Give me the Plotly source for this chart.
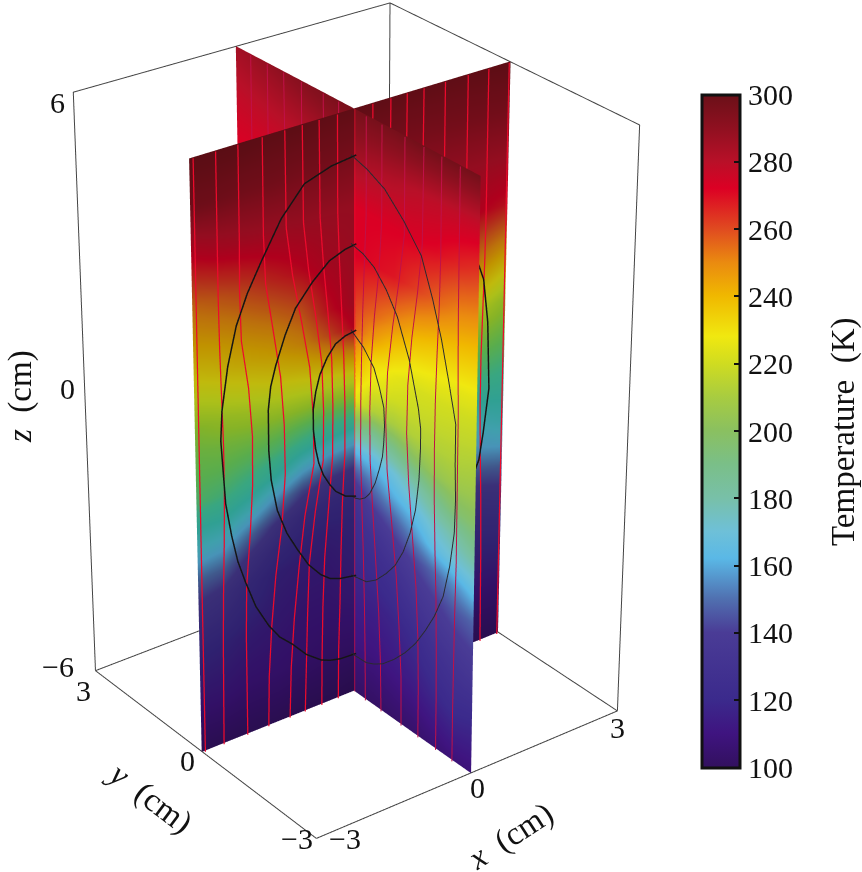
import numpy as np
import plotly.graph_objects as go

FONT = "Liberation Serif"

# temperature tables (K), rows follow Z_ROWS
Z_ROWS = [6, 5, 4, 3, 2, 1.5, 1, 0.5, 0, -0.5, -1, -1.5, -2, -2.5, -3, -4, -5, -6]
PLANE_COLS = [-3, -2.5, -2, -1.5, -1, -0.5, 0, 1, 2, 3]

T_Y0 = [
    [298, 298, 298, 297, 297, 296, 296, 296, 296, 297],
    [291, 291, 290, 290, 289, 289, 288, 288, 289, 290],
    [272, 276, 278, 279, 280, 280, 280, 280, 280, 280],
    [252, 256, 260, 265, 270, 276, 279, 278, 274, 268],
    [237, 240, 244, 248, 254, 268, 278, 270, 255, 240],
    [228, 232, 236, 240, 246, 258, 272, 262, 242, 225],
    [218, 222, 226, 230, 234, 240, 248, 245, 225, 212],
    [208, 212, 215, 218, 220, 222, 225, 222, 212, 205],
    [203, 205, 206, 206, 205, 204, 205, 205, 202, 198],
    [200, 200, 198, 195, 190, 186, 185, 188, 192, 190],
    [195, 193, 188, 180, 168, 160, 158, 165, 178, 182],
    [180, 180, 172, 158, 144, 138, 136, 142, 165, 175],
    [168, 166, 152, 138, 128, 125, 124, 130, 155, 165],
    [152, 150, 136, 126, 120, 118, 120, 122, 142, 150],
    [140, 136, 126, 118, 116, 115, 118, 118, 130, 138],
    [122, 120, 116, 114, 112, 112, 114, 114, 118, 122],
    [112, 112, 110, 110, 109, 108, 108, 108, 110, 110],
    [102, 102, 102, 102, 101, 101, 100, 100, 101, 102],
]

T_X0 = [
    [297, 297, 297, 297, 296, 296, 296, 293, 289, 285],
    [277, 278, 279, 280, 282, 283, 285, 282, 280, 278],
    [262, 266, 270, 272, 272, 272, 272, 272, 272, 272],
    [247, 250, 256, 262, 268, 270, 272, 270, 266, 262],
    [232, 234, 236, 240, 248, 256, 262, 250, 240, 232],
    [225, 226, 228, 230, 236, 246, 258, 236, 228, 225],
    [219, 220, 221, 222, 226, 232, 247, 226, 221, 219],
    [215, 216, 217, 218, 220, 224, 235, 220, 217, 215],
    [210, 212, 212, 212, 210, 212, 225, 210, 212, 210],
    [205, 206, 204, 198, 190, 186, 195, 195, 207, 205],
    [198, 196, 188, 178, 170, 165, 165, 170, 198, 195],
    [188, 180, 174, 166, 160, 152, 145, 155, 182, 175],
    [174, 170, 165, 155, 146, 140, 130, 140, 170, 165],
    [162, 155, 148, 142, 136, 130, 125, 130, 155, 155],
    [148, 145, 140, 135, 128, 124, 122, 124, 142, 147],
    [135, 132, 128, 122, 118, 116, 116, 118, 128, 135],
    [120, 122, 118, 114, 112, 110, 110, 112, 118, 120],
    [108, 108, 106, 104, 103, 102, 102, 103, 106, 108],
]

# colour bar, and the same scale with the stronger greens seen on the shaded plane
SCALE_T = [100, 110, 120, 140, 150, 162, 170, 180, 190, 200, 210, 220, 228, 240, 250, 260, 272, 280, 290, 300]
SCALE_C = ["#32105f", "#3f1480", "#3b2a8c", "#4a3c96", "#5070b0", "#5ab8e6", "#6ec0d8", "#78c0a8",
           "#7abf88", "#8ac060", "#a8cc40", "#d0dc20", "#f0e810", "#f0b800", "#ea8a10", "#e04a20",
           "#dc0024", "#b81028", "#8f1020", "#6a1018"]
SHADED_C = ["#32105f", "#3f1480", "#3b2a8c", "#4a3c96", "#5070b0", "#5ab8e6", "#50c8d8", "#3cc8b8",
            "#48d0a0", "#70d860", "#a8e030", "#d8f020", "#f0e810", "#f0b800", "#ea8a10", "#e04a20",
            "#dc0024", "#b81028", "#8f1020", "#6a1018"]
CBAR_TICKS = [100, 120, 140, 160, 180, 200, 220, 240, 260, 280, 300]

# field lines, position along the plane at each height
LINE_Z = [6, 4, 3, 2, 1, 0, -1, -2, -3, -4, -5, -6]
LINES_Y0 = [
    [-2.95, -2.95, -2.95, -2.95, -2.95, -2.95, -2.95, -2.95, -2.95, -2.95, -2.95, -2.95],
    [-2.55, -2.55, -2.55, -2.54, -2.52, -2.5, -2.5, -2.52, -2.55, -2.57, -2.58, -2.59],
    [-2.15, -2.15, -2.16, -2.14, -2.02, -1.96, -1.97, -2.03, -2.11, -2.13, -2.13, -2.13],
    [-1.71, -1.71, -1.68, -1.55, -1.42, -1.36, -1.35, -1.42, -1.55, -1.64, -1.7, -1.72],
    [-1.3, -1.29, -1.18, -1.02, -0.87, -0.81, -0.8, -0.98, -1.1, -1.2, -1.27, -1.3],
    [-0.98, -0.97, -0.88, -0.75, -0.64, -0.61, -0.62, -0.78, -0.9, -0.94, -0.97, -1.0],
    [-0.67, -0.66, -0.6, -0.52, -0.45, -0.43, -0.44, -0.52, -0.6, -0.64, -0.66, -0.67],
    [-0.33, -0.33, -0.3, -0.26, -0.22, -0.2, -0.2, -0.25, -0.28, -0.3, -0.33, -0.34],
    [0, 0, 0, 0, 0, 0, 0, 0, 0, 0, 0, 0],
]
LINES_X0 = [
    [-0.34, -0.34, -0.3, -0.26, -0.23, -0.21, -0.21, -0.24, -0.28, -0.31, -0.33, -0.34],
    [-0.72, -0.72, -0.66, -0.55, -0.47, -0.44, -0.45, -0.52, -0.6, -0.68, -0.73, -0.75],
    [-1.27, -1.27, -1.15, -1.0, -0.88, -0.84, -0.88, -1.0, -1.12, -1.2, -1.26, -1.27],
    [-1.72, -1.7, -1.6, -1.47, -1.38, -1.36, -1.42, -1.52, -1.62, -1.68, -1.7, -1.7],
    [-2.14, -2.14, -2.12, -2.08, -2.05, -2.04, -2.05, -2.08, -2.12, -2.14, -2.15, -2.15],
    [-2.57, -2.57, -2.57, -2.58, -2.6, -2.6, -2.6, -2.6, -2.58, -2.57, -2.56, -2.56],
]

# black contours: left half on y = 0, right half on x = 0
OUTER_X = [0, -0.47, -0.97, -1.4, -1.78, -2.04, -2.25, -2.42, -2.54, -2.57, -2.54, -2.5, -2.4, -2.29, -2.15,
           -1.96, -1.72, -1.51, -1.27, -0.99, -0.7, -0.52, -0.32, 0]
OUTER_XZ = [5.07, 5.0, 4.81, 4.25, 3.5, 2.95, 2.37, 1.6, 0.74, 0.15, -0.41, -1.15, -1.83, -2.4, -2.88,
            -3.45, -3.93, -4.25, -4.49, -4.82, -5.05, -5.13, -5.18, -5.2]
OUTER_Y = [0, -0.4, -0.6, -0.83, -1.12, -1.4, -1.66, -1.9, -2.12, -2.33, -2.48, -2.58, -2.6, -2.58, -2.58,
           -2.4, -2.22, -2.0, -1.72, -1.3, -0.83, -0.4, 0]
OUTER_YZ = [-5.2, -5.18, -5.1, -4.97, -4.72, -4.43, -4.1, -3.71, -3.3, -2.79, -2.1, -1.38, -0.7, 0, 0.82,
            1.6, 2.34, 3.05, 3.8, 4.3, 4.74, 4.95, 5.07]
MIDDLE_X = [0, -0.21, -0.51, -0.83, -1.15, -1.35, -1.53, -1.63, -1.68, -1.68, -1.64, -1.53, -1.35, -1.15, -0.94,
            -0.7, -0.52, -0.32, 0]
MIDDLE_XZ = [3.24, 3.2, 3.07, 2.75, 2.33, 1.85, 1.3, 0.9, 0.44, -0.38, -1.0, -1.66, -2.2, -2.61, -3.0,
             -3.3, -3.45, -3.53, -3.59]
MIDDLE_Y = [0, -0.4, -0.65, -0.9, -1.13, -1.33, -1.5, -1.63, -1.71, -1.74, -1.74, -1.68, -1.45, -1.15, -0.88,
            -0.58, -0.3, 0]
MIDDLE_YZ = [-3.59, -3.52, -3.35, -3.09, -2.8, -2.42, -1.95, -1.41, -0.75, -0.11, 0.3, 0.68, 1.55, 2.29, 2.7,
             3.02, 3.17, 3.24]
INNER_X = [0, -0.21, -0.4, -0.56, -0.7, -0.78, -0.83, -0.83, -0.79, -0.73, -0.64, -0.52, -0.4, -0.21, 0]
INNER_XZ = [1.46, 1.42, 1.32, 1.1, 0.8, 0.48, 0.14, -0.28, -0.68, -1.0, -1.28, -1.52, -1.71, -1.88, -1.96]
INNER_Y = [0, -0.12, -0.23, -0.36, -0.48, -0.62, -0.73, -0.8, -0.83, -0.85, -0.83, -0.72, -0.58, -0.32, 0]
INNER_YZ = [-1.96, -1.95, -1.91, -1.82, -1.67, -1.38, -1.02, -0.75, -0.47, -0.1, 0.27, 0.62, 0.96, 1.25, 1.46]
BACK_X = [2.2, 2.5, 2.6, 2.65, 2.55, 2.47, 2.2]
BACK_Z = [2.6, 1.62, 0.69, -0.72, -1.6, -2.15, -2.8]

# box edges, as x, y, z
BOX_X = [-3, 3, 3, -3, -3, None, -3, -3, 3, 3, None, 3, 3, None, 3, 3]
BOX_Y = [-3, -3, 3, 3, -3, None, 3, 3, 3, -3, None, 3, 3, None, -3, -3]
BOX_Z = [-6, -6, -6, -6, -6, None, -6, 6, 6, 6, None, 6, -6, None, 6, -6]

WIDTH, HEIGHT = 862, 872
KEYSTONE = 0.0068  # narrowing towards the bottom in the original view
DEPTH = 0.015      # and shrinking away from the viewer
colorscale = [[(t - 100) / 200, c] for t, c in zip(SCALE_T, SCALE_C)]
shadedscale = [[(t - 100) / 200, c] for t, c in zip(SCALE_T, SHADED_C)]
cols = np.array(PLANE_COLS, dtype=float)
rows = np.array(Z_ROWS, dtype=float)
grid_c, grid_z = np.meshgrid(cols, rows)
zeros = np.zeros_like(grid_c)


def warp(x, y, z):
    # orthographic camera below, so put the perspective of the original into the points
    x, y, z = (np.array(v, dtype=float) for v in (x, y, z))
    near = 1 - DEPTH * (0.6 * x + 0.8 * y)
    side = near + KEYSTONE * z
    return x * side, y * side, z * near


def path(x, y, z, color, width):
    x = [np.nan if v is None else v for v in x]
    y = [np.nan if v is None else v for v in y]
    z = [np.nan if v is None else v for v in z]
    xs, ys, zs = warp(x, y, z)
    return go.Scatter3d(x=xs, y=ys, z=zs, mode="lines", line=dict(color=color, width=width),
                        hoverinfo="none", showlegend=False)


fig = go.Figure()
sx, sy, sz = warp(grid_c, zeros, grid_z)
fig.add_trace(go.Surface(
    x=sx, y=sy, z=sz, surfacecolor=np.array(T_Y0, dtype=float),
    cmin=100, cmax=300, colorscale=shadedscale, showscale=False, hoverinfo="none",
    lighting=dict(ambient=0.8, diffuse=0, specular=0, roughness=1, fresnel=0),
))
sx, sy, sz = warp(zeros, grid_c, grid_z)
fig.add_trace(go.Surface(
    x=sx, y=sy, z=sz, surfacecolor=np.array(T_X0, dtype=float),
    cmin=100, cmax=300, colorscale=colorscale, hoverinfo="none",
    lighting=dict(ambient=1, diffuse=0, specular=0, roughness=1, fresnel=0),
    colorbar=dict(
        x=702 / WIDTH, xanchor="left", xpad=0, y=1 - 431 / HEIGHT, yanchor="middle", ypad=0,
        len=673, lenmode="pixels", thickness=38, thicknessmode="pixels",
        outlinecolor="#111111", outlinewidth=3,
        tickvals=CBAR_TICKS, ticks="inside", ticklen=7, tickwidth=2, tickcolor="#111111",
        tickfont=dict(family=FONT, size=30, color="#111111"),
    ),
))

eps = 0.03
fig.add_trace(path(BOX_X, BOX_Y, BOX_Z, "#444444", 2))
for line in LINES_Y0:
    fig.add_trace(path(line, [-eps] * len(line), LINE_Z, "#ec0a2c", 2.5))
    fig.add_trace(path([-v for v in line], [-eps] * len(line), LINE_Z, "#ec0a2c", 2.5))
for line in LINES_X0:
    fig.add_trace(path([-eps] * len(line), line, LINE_Z, "#c01048", 2))
    fig.add_trace(path([-eps] * len(line), [-v for v in line], LINE_Z, "#c01048", 2))

for cx, cxz, cy, cyz in [(OUTER_X, OUTER_XZ, OUTER_Y, OUTER_YZ),
                         (MIDDLE_X, MIDDLE_XZ, MIDDLE_Y, MIDDLE_YZ),
                         (INNER_X, INNER_XZ, INNER_Y, INNER_YZ)]:
    fig.add_trace(path(cx, [-2 * eps] * len(cx), cxz, "#151515", 3))
    fig.add_trace(path([-2 * eps] * len(cy), cy, cyz, "#2a2a30", 2))
fig.add_trace(path(BACK_X, [-2 * eps] * len(BACK_X), BACK_Z, "#151515", 3))


def label(text, px, py, angle=0, size=30):
    return dict(text=text, x=px / WIDTH, y=1 - py / HEIGHT, xref="paper", yref="paper",
                showarrow=False, textangle=angle, xanchor="center", yanchor="middle",
                font=dict(family=FONT, size=size, color="#111111"))


hidden = dict(visible=False)
shift = -0.0945
fig.update_layout(
    width=WIDTH, height=HEIGHT, margin=dict(l=0, r=0, t=0, b=0),
    paper_bgcolor="white",
    scene=dict(
        domain=dict(x=[0, 0.821], y=[0, 1]),
        xaxis=dict(hidden, range=[-3.4, 3.4]), yaxis=dict(hidden, range=[-3.4, 3.4]), zaxis=dict(hidden, range=[-6.5, 6.5]),
        aspectmode="manual", aspectratio=dict(x=1.006, y=1.015, z=1.634),
        camera=dict(eye=dict(x=-1.17, y=-1.55, z=1.02 + shift), center=dict(x=0, y=0, z=shift),
                    up=dict(x=0, y=0, z=1), projection=dict(type="orthographic")),
    ),
    annotations=[
        label("6", 57, 103), label("0", 67, 388), label("\u22126", 58, 666),
        label("3", 83, 690), label("0", 187, 760), label("\u22123", 297, 838),
        label("\u22123", 345, 838), label("0", 477, 787), label("3", 617, 727),
        label("<i>z</i>\u00a0\u00a0(cm)", 20, 397, angle=-90, size=33),
        label("<i>y</i>\u00a0\u00a0(cm)", 150, 797, angle=37, size=33),
        label("<i>x</i>\u00a0\u00a0(cm)", 510, 836, angle=-33, size=33),
        label("Temperature\u00a0\u00a0(K)", 843, 432, angle=-90, size=33),
    ],
)

fig.write_html("out.html", config=dict(displayModeBar=False),
               post_script="document.body.style.margin = '0';")
